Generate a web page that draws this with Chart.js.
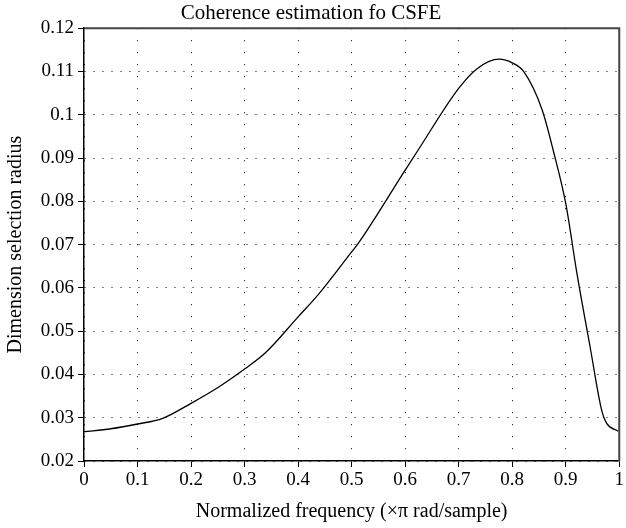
<!DOCTYPE html>
<html><head><meta charset="utf-8">
<script src="https://cdn.jsdelivr.net/npm/chart.js@4/dist/chart.umd.min.js"></script>
<style>html,body{margin:0;padding:0;background:#fff}#wrap{width:626px;height:528px}</style>
</head><body><div id="wrap"><canvas id="c" width="626" height="528"></canvas></div>
<script>
const freq = [0, 0.05, 0.1, 0.147, 0.2, 0.2525, 0.3, 0.339, 0.4, 0.438, 0.5, 0.512, 0.6, 0.624, 0.7, 0.735, 0.7755, 0.8, 0.822, 0.856, 0.878, 0.9, 0.921, 0.9455, 0.967, 0.9765, 0.998];
const radius = [0.02677, 0.02745, 0.02855, 0.02986, 0.03333, 0.03716, 0.04125, 0.0450, 0.0533, 0.0585, 0.0683, 0.0702, 0.0872, 0.0918, 0.1061, 0.1107, 0.11284, 0.1120, 0.1099, 0.1011, 0.0911, 0.0795, 0.0633, 0.0464, 0.0318, 0.0287, 0.0269];
const xTicks = [0, 0.1, 0.2, 0.3, 0.4, 0.5, 0.6, 0.7, 0.8, 0.9, 1];
const yTicks = [0.02, 0.03, 0.04, 0.05, 0.06, 0.07, 0.08, 0.09, 0.1, 0.11, 0.12];
const titleText = 'Coherence estimation fo CSFE';
const xTitle = 'Normalized frequency (×π rad/sample)';
const yTitle = 'Dimension selection radius';

const FONT = "'Liberation Serif', 'DejaVu Serif', serif";
const frame = {
  id: 'frame',
  afterDraw(chart) {
    const a = chart.chartArea, ctx = chart.ctx;
    ctx.save();
    ctx.strokeStyle = '#444'; ctx.lineWidth = 2;
    ctx.beginPath();
    ctx.moveTo(a.left, a.top); ctx.lineTo(a.right, a.top); ctx.lineTo(a.right, a.bottom);
    ctx.stroke();
    ctx.restore();
  }
};

new Chart(document.getElementById('c'), {
  type: 'line',
  data: {
    datasets: [{
      data: freq.map((f, i) => ({x: f, y: radius[i]})),
      borderColor: '#000', borderWidth: 1.3, pointRadius: 0,
      cubicInterpolationMode: 'monotone', fill: false
    }]
  },
  options: {
    responsive: false, animation: false,
    layout: {padding: {left: 0, right: 4, top: 0, bottom: 0}},
    plugins: {
      legend: {display: false}, tooltip: {enabled: false},
      title: {display: true, text: titleText, color: '#000',
        font: {family: FONT, size: 21, weight: 'normal'}, padding: {top: 1, bottom: 2}}
    },
    scales: {
      x: {
        type: 'linear', min: 0, max: 1,
        afterBuildTicks: ax => { ax.ticks = xTicks.map(v => ({value: v})); },
        ticks: {color: '#000', font: {family: FONT, size: 19}, padding: 2, maxRotation: 0,
          callback: v => String(v)},
        grid: {color: '#000', lineWidth: 1, tickLength: 6, tickColor: '#000', tickWidth: 1},
        border: {color: '#000', width: 1.5, dash: [1, 11]},
        title: {display: true, text: xTitle, color: '#000', font: {family: FONT, size: 20}, padding: {top: 8, bottom: 4}},
        afterFit: ax => { ax.height = 67; }
      },
      y: {
        min: 0.02, max: 0.12,
        afterBuildTicks: ax => { ax.ticks = yTicks.map(v => ({value: v})); },
        ticks: {color: '#000', font: {family: FONT, size: 19}, padding: 4,
          callback: v => String(+v.toFixed(2))},
        grid: {color: '#000', lineWidth: 1, tickLength: 6, tickColor: '#000', tickWidth: 1},
        border: {color: '#000', width: 1.5, dash: [1, 8]},
        title: {display: true, text: yTitle, color: '#000', font: {family: FONT, size: 20}, padding: {top: 4, bottom: 6}},
        afterFit: ax => { ax.width = 84; }
      }
    }
  },
  plugins: [frame]
});
</script></body></html>
